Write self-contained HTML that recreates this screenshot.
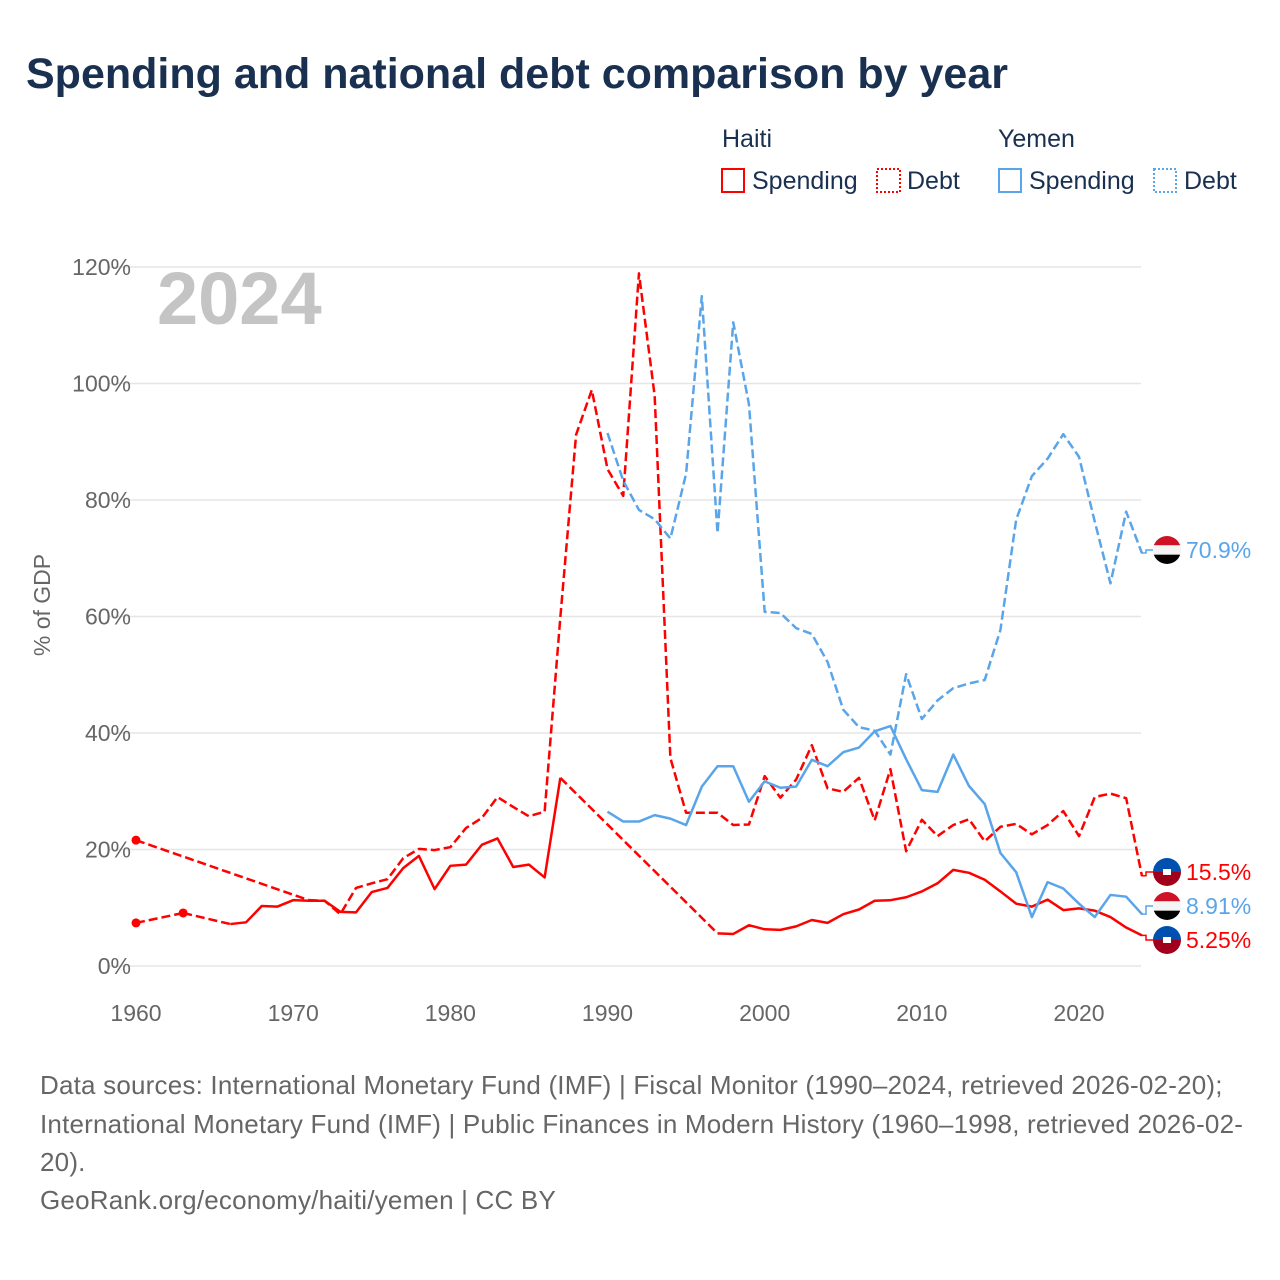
<!DOCTYPE html>
<html><head><meta charset="utf-8">
<style>
html,body{margin:0;padding:0;background:#fff;}
body{width:1280px;height:1280px;position:relative;overflow:hidden;font-family:"Liberation Sans",sans-serif;}
.t{position:absolute;white-space:nowrap;}
</style></head>
<body>
<div class="t" style="left:26px;top:50px;font-size:43px;font-weight:bold;color:#1a3050;">Spending and national debt comparison by year</div>
<svg id="chart" width="1280" height="1280" style="position:absolute;left:0;top:0;">
 <g id="legend" font-size="25" fill="#1a3050">
  <text x="722" y="147">Haiti</text>
  <text x="998" y="147">Yemen</text>
  <g><rect x="722" y="169" width="22" height="23" fill="none" stroke="#ff0000" stroke-width="2"/><text x="752" y="189">Spending</text></g>
  <g><rect x="877" y="169" width="23" height="23" fill="none" stroke="#ff0000" stroke-width="2" stroke-dasharray="2,2"/><text x="907" y="189">Debt</text></g>
  <g><rect x="999" y="169" width="22" height="23" fill="none" stroke="#5aa5ea" stroke-width="2"/><text x="1029" y="189">Spending</text></g>
  <g><rect x="1154" y="169" width="22" height="23" fill="none" stroke="#5aa5ea" stroke-width="2" stroke-dasharray="2,2"/><text x="1184" y="189">Debt</text></g>
 </g>
 <g id="grid"></g>
 <text x="157" y="324" font-size="74" font-weight="bold" fill="#c4c4c4">2024</text>
 <text transform="translate(50,605) rotate(-90)" text-anchor="middle" font-size="23" fill="#666">% of GDP</text>
 <g id="series"></g>
 <g id="ends"></g>
</svg>
<div class="t" style="left:40px;top:1066px;font-size:26px;letter-spacing:0.2px;line-height:38.7px;color:#666;">Data sources: International Monetary Fund (IMF) | Fiscal Monitor (1990–2024, retrieved 2026-02-20);<br>International Monetary Fund (IMF) | Public Finances in Modern History (1960–1998, retrieved 2026-02-<br>20).</div>
<div class="t" style="left:40px;top:1185px;font-size:26px;letter-spacing:0.2px;color:#666;">GeoRank.org/economy/haiti/yemen | CC BY</div>
<script>
const years=[];for(let y=1960;y<=2024;y++)years.push(y);
const yTicks=[0,20,40,60,80,100,120];
const xTicks=[1960,1970,1980,1990,2000,2010,2020];
const N=null;
// values 1960..2024
const haitiSpending=[7.4,N,N,9.1,N,N,7.2,7.5,10.3,10.2,11.3,11.2,11.2,9.3,9.2,12.7,13.4,16.8,18.9,13.2,17.2,17.4,20.8,21.9,17.0,17.4,15.2,32.3,N,N,N,N,N,N,N,N,N,5.6,5.5,7.0,6.3,6.2,6.8,7.9,7.4,8.9,9.7,11.2,11.3,11.8,12.8,14.2,16.5,16.0,14.8,12.8,10.7,10.2,11.4,9.6,9.9,9.5,8.4,6.6,5.25];
const haitiDebt=[21.6,N,N,N,N,N,N,N,N,N,N,11.3,11.2,8.9,13.4,14.2,14.9,18.5,20.1,19.9,20.4,23.7,25.4,29.0,27.3,25.7,26.5,59.9,91.2,98.9,85.3,80.7,118.9,97.9,35.7,26.3,26.3,26.3,24.2,24.3,32.6,28.9,32.0,37.9,30.5,29.9,32.3,25.0,33.8,19.7,25.1,22.3,24.2,25.2,21.4,23.9,24.4,22.6,24.2,26.6,22.3,29.0,29.6,28.8,15.5];
const yemenSpending=[N,N,N,N,N,N,N,N,N,N,N,N,N,N,N,N,N,N,N,N,N,N,N,N,N,N,N,N,N,N,26.5,24.8,24.8,25.9,25.3,24.2,30.8,34.3,34.3,28.2,31.7,30.6,30.8,35.4,34.3,36.7,37.5,40.3,41.2,35.5,30.2,29.9,36.3,30.9,27.8,19.4,16.1,8.4,14.4,13.3,10.7,8.4,12.2,11.9,8.91];
const yemenDebt=[N,N,N,N,N,N,N,N,N,N,N,N,N,N,N,N,N,N,N,N,N,N,N,N,N,N,N,N,N,N,91.5,83.3,78.3,76.7,73.4,84.5,115,74.3,110.5,96.4,60.8,60.6,58.0,57.0,52.2,44.0,41.0,40.4,36.3,50.1,42.4,45.6,47.7,48.5,49.1,57.7,76.6,84.1,87.1,91.3,87.4,76.3,65.7,78.0,70.9];
const endLabels=["70.9%","15.5%","8.91%","5.25%"];

const NS="http://www.w3.org/2000/svg";
const X=y=>136+(y-1960)*15.717;
const Y=v=>966-v*5.825;
function mk(tag,attrs,parent){const e=document.createElementNS(NS,tag);for(const k in attrs)e.setAttribute(k,attrs[k]);parent.appendChild(e);return e;}
const grid=document.getElementById('grid');
yTicks.forEach(v=>{
 const l=mk('line',{x1:108,x2:1141,y1:Y(v),y2:Y(v),stroke:'#e6e6e6','stroke-width':1.5},grid);
 
 
 const t=mk('text',{x:131,y:Y(v)+8,'text-anchor':'end','font-size':23,fill:'#666'},grid);
 t.textContent=v+'%';
 
 
});
xTicks.forEach(yr=>{
 const t=mk('text',{x:X(yr),y:1021,'text-anchor':'middle','font-size':23,fill:'#666'},grid);
 t.textContent=yr;
 
 
});
const ser=document.getElementById('series');
function draw(vals,color,dashed,name){
 const g=mk('g',{},ser);
 
 
 const pts=[];vals.forEach((v,i)=>{if(v!==null)pts.push([years[i],v]);});
 let d='';
 for(let i=0;i<pts.length;i++){
  const [yr,v]=pts[i];
  if(i===0||pts[i-1][0]!==yr-1)d+='M'+X(yr)+','+Y(v);else d+='L'+X(yr)+','+Y(v);
 }
 const p=mk('path',{d:d,fill:'none',stroke:color,'stroke-width':2.5,'stroke-linejoin':'round'},g);
 if(dashed)p.setAttribute('stroke-dasharray','9,4');
 for(let i=1;i<pts.length;i++){
  if(pts[i][0]!==pts[i-1][0]+1){
   mk('line',{x1:X(pts[i-1][0]),y1:Y(pts[i-1][1]),x2:X(pts[i][0]),y2:Y(pts[i][1]),stroke:color,'stroke-width':2.5,'stroke-dasharray':'9,4'},g);
  }
 }
 for(let i=0;i<pts.length;i++){
  const prev=i>0&&pts[i-1][0]===pts[i][0]-1, next=i<pts.length-1&&pts[i+1][0]===pts[i][0]+1;
  if(!prev&&!next)mk('circle',{cx:X(pts[i][0]),cy:Y(pts[i][1]),r:4.5,fill:color},g);
 }
}
draw(haitiSpending,'#ff0000',false,'haiti-spending-line');
draw(haitiDebt,'#ff0000',true,'haiti-debt-line');
draw(yemenSpending,'#5aa5ea',false,'yemen-spending-line');
draw(yemenDebt,'#5aa5ea',true,'yemen-debt-line');

const ends=document.getElementById('ends');
const endDefs=[[yemenDebt,550,'#5aa5ea','yemen'],[haitiDebt,872,'#ff0000','haiti'],[yemenSpending,906,'#5aa5ea','yemen'],[haitiSpending,940,'#ff0000','haiti']];
endDefs.forEach((e,i)=>{
 const last=e[0][e[0].length-1];
 const g=mk('g',{},ends);
 
 
 mk('path',{d:`M1141,${Y(last)} L1146,${Y(last)} L1146,${e[1]} L1153,${e[1]}`,fill:'none',stroke:e[2],'stroke-width':1.5},g);
 const cx=1167,cy=e[1],r=14;
 const cid='clip'+i;
 const cp=mk('clipPath',{id:cid},g);mk('circle',{cx:cx,cy:cy,r:r},cp);
 const fg=mk('g',{'clip-path':`url(#${cid})`},g);
 if(e[3]==='yemen'){
  mk('rect',{x:cx-r,y:cy-r,width:2*r,height:28/3,fill:'#ce1126'},fg);
  mk('rect',{x:cx-r,y:cy-r+28/3,width:2*r,height:28/3,fill:'#f4f4f4'},fg);
  mk('rect',{x:cx-r,y:cy-r+56/3,width:2*r,height:28/3,fill:'#000'},fg);
 }else{
  mk('rect',{x:cx-r,y:cy-r,width:2*r,height:r,fill:'#0050b0'},fg);
  mk('rect',{x:cx-r,y:cy,width:2*r,height:r,fill:'#a0001c'},fg);
  mk('rect',{x:cx-4,y:cy-3,width:8,height:6,fill:'#fff'},fg);
 }
 const t=mk('text',{x:1186,y:e[1]+8,'font-size':23,fill:e[2]},g);
 t.textContent=endLabels[i];
});
</script>
</body></html>
